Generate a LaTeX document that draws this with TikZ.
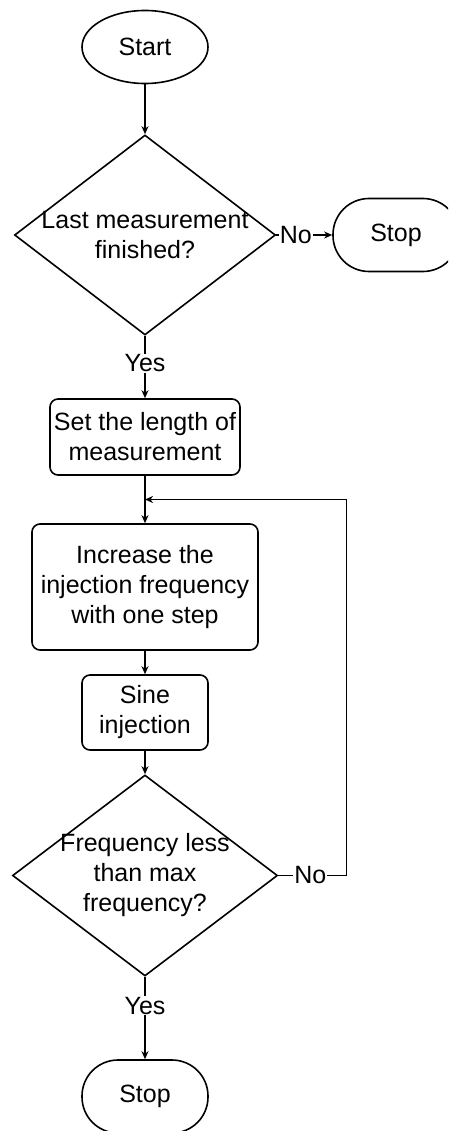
\documentclass[tikz,border=0pt]{standalone}
\usepackage{fontspec}
\setmainfont{Liberation Sans}
\usetikzlibrary{positioning,shapes.geometric,arrows.meta,calc}

\begin{document}
\begin{tikzpicture}[->, >={Stealth[length=8pt,width=7pt,inset=2.5pt]}, node distance=150pt and 251pt, on grid, line width=1.2pt, font=\fontsize{25}{30}\selectfont, terminal/.style={draw, line width=1.6pt, rounded corners=36pt, minimum width=126pt, minimum height=73pt}, startnode/.style={draw, ellipse, line width=1.6pt, minimum width=126pt, minimum height=73pt}, process/.style={draw, line width=1.6pt, rounded corners=8pt, align=center, inner sep=2pt}, decision/.style={draw, diamond, line width=1.6pt, inner sep=0pt}, question/.style={align=center, inner sep=0pt}, answer/.style={fill=white, inner sep=1pt}]
	\clip (0,0) rectangle (448pt,-1131pt);

	\node[startnode] (start) at (145pt,-47pt) {Start};
	\node[decision, minimum width=261pt, minimum height=200pt] (last) [below=188pt of start] {};
	\node[question] (lasttext) at (last) {Last measurement\\finished?};
	\node[terminal] (stopA) [right=of last] {Stop};
	\node[process, minimum width=190pt, minimum height=76pt] (length) [below=202pt of last] {Set the length of\\measurement};
	\node[process, minimum width=226pt, minimum height=126pt] (increase) [below=of length] {Increase the\\injection frequency\\with one step};
	\node[process, minimum width=126pt, minimum height=75pt] (sine) [below=125.5pt of increase] {Sine\\injection};
	\node[decision, minimum width=265pt, minimum height=201pt] (freq) [below=163pt of sine] {};
	\node[question] (freqtext) at (freq) {Frequency less\\than max\\frequency?};
	\node[terminal] (stopB) [below=221pt of freq] {Stop};

	\coordinate (join) at ($(length.south)!0.5!(increase.north)$);
	\coordinate (turn) at ([xshift=68pt]freq.east);

	\path (start) edge[] node[]{} (last);
	\path (length) edge[] node[]{} (increase);
	\path (increase) edge[] node[]{} (sine);
	\path (sine) edge[] node[]{} (freq);

	\draw (last) -- node[answer, pos=0.35]{No} (stopA);
	\draw (last) -- node[answer, pos=0.44]{Yes} (length);
	\draw (freq) -- node[answer, pos=0.47]{No} (turn) |- (join);
	\draw (freq) -- node[answer, pos=0.35]{Yes} (stopB);

\end{tikzpicture}
\end{document}
